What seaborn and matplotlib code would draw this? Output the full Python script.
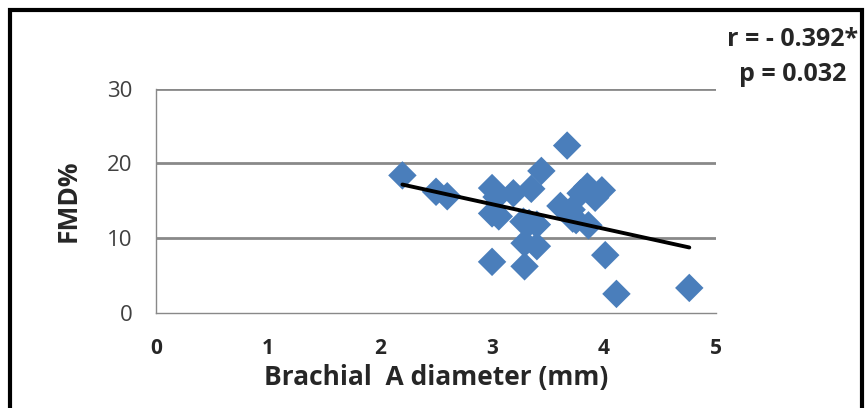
import matplotlib
matplotlib.use("Agg")
import matplotlib.pyplot as plt
import seaborn as sns
import numpy as np
import pandas as pd
from matplotlib.patches import Rectangle

diameter = [2.20, 2.50, 2.60, 3.00, 3.04, 3.00, 3.06, 3.00, 3.19, 3.35,
            3.44, 3.28, 3.40, 3.29, 3.40, 3.29, 3.67, 3.85, 3.79, 3.98,
            3.92, 3.61, 3.71, 3.75, 3.86, 4.01, 4.11, 4.76, 3.72, 3.33]
fmd = [18.4, 16.2, 15.6, 16.7, 15.5, 13.3, 12.9, 6.8, 16.0, 16.6,
       19.0, 12.2, 11.8, 9.3, 8.9, 6.2, 22.4, 16.9, 16.0, 16.4,
       15.4, 14.3, 13.8, 12.4, 11.7, 7.7, 2.5, 3.3, 12.6, 12.0]
x_ticks = [0, 1, 2, 3, 4, 5]
y_ticks = [0, 10, 20, 30]
annotation = "r = - 0.392*\np = 0.032"

df = pd.DataFrame({"diameter": diameter, "fmd": fmd})

sns.set_style("white")
plt.rcParams['font.family'] = ['Open Sans', 'DejaVu Sans']

fig = plt.figure(figsize=(8.66, 4.08), dpi=100)
ax = fig.add_axes([0.180, 0.234, 0.647, 0.548])

grid_c = "#898989"
for yv in y_ticks[1:]:
    ax.axhline(yv, color=grid_c, lw=2, zorder=0)

sns.regplot(data=df, x="diameter", y="fmd", ax=ax, ci=None, marker="D",
            scatter_kws=dict(s=210, color="#4A7EBB", edgecolor="none",
                             alpha=1, zorder=3),
            line_kws=dict(color="black", lw=2.8, zorder=4))

ax.set_xlim(0, 5)
ax.set_ylim(0, 30)
ax.set_xticks(x_ticks)
ax.set_yticks(y_ticks)
ax.set_xticklabels([str(t) for t in x_ticks], fontweight="bold", fontsize=15)
ax.set_yticklabels([str(t) for t in y_ticks], fontsize=16, color="#404040")
ax.tick_params(axis="both", direction="out", length=7, width=1, color=grid_c)
ax.tick_params(axis="x", pad=11)
ax.tick_params(axis="y", pad=10)
for s in ["top", "right"]:
    ax.spines[s].set_visible(False)
for s in ["left", "bottom"]:
    ax.spines[s].set_color(grid_c)
    ax.spines[s].set_linewidth(1)
ax.set_xlabel("Brachial  A diameter (mm)", fontweight="bold", fontsize=19, labelpad=4)
ax.set_ylabel("FMD%", fontweight="bold", fontsize=19, labelpad=18)

fig.text(0.991, 0.935, annotation, ha="right", va="top", fontsize=18,
         fontweight="bold", linespacing=1.55, multialignment="center")

fig.patches.append(Rectangle((10/866, -0.05), (862-10)/866, 1.05 - 10/408,
                             transform=fig.transFigure, fill=False,
                             edgecolor="black", lw=3))

fig.savefig("out.png", dpi=100)
